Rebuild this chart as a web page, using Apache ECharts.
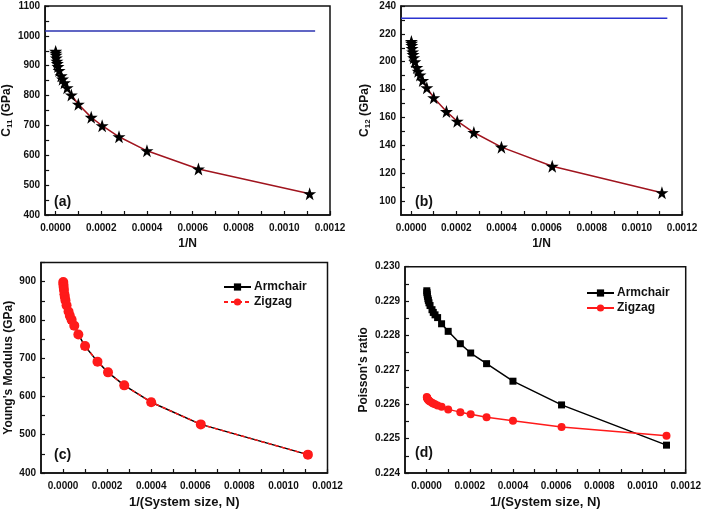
<!DOCTYPE html>
<html><head><meta charset="utf-8">
<script src="https://cdn.jsdelivr.net/npm/echarts@6/dist/echarts.min.js"></script>
<style>html,body{margin:0;padding:0;background:#fff}#c{width:704px;height:510px}</style>
</head><body><div id="c"></div>
<script>
// ---------- data ----------
const invN = [0.000001, 0.0000016, 0.0000028, 0.000004, 0.0000063, 0.0000082, 0.0000111, 0.000016, 0.000025, 0.0000309, 0.0000391, 0.000051, 0.0000694, 0.0001, 0.0001563, 0.0002041, 0.0002778, 0.0004, 0.000625, 0.0011111];
const c11 = [948, 942, 935, 926, 915, 907, 897, 884, 866, 855, 843, 826, 802, 771, 727, 699, 662, 615, 554, 471];
const c12 = [214.5, 213.2, 211.6, 209.5, 207, 205.2, 202.9, 199.9, 195.8, 193.2, 190.5, 186.5, 181.3, 174.2, 164.2, 157.3, 149.2, 138.7, 125, 106];
const youngArm = [898, 892, 886, 877, 867, 859, 850, 838, 821, 810, 799, 784, 762, 731, 691, 663, 629, 585, 527, 448];
const youngZig = [899, 893, 886, 878, 867, 860, 851, 838, 822, 811, 800, 785, 762, 732, 691, 663, 629, 585, 527, 448];
const poisArm = [0.22930, 0.22925, 0.22920, 0.22914, 0.22907, 0.22902, 0.22895, 0.22887, 0.22875, 0.22867, 0.22860, 0.22852, 0.22834, 0.22812, 0.22776, 0.22749, 0.22718, 0.22667, 0.22598, 0.22481];
const poisZig = [0.22621, 0.22619, 0.22618, 0.22616, 0.22614, 0.22612, 0.22610, 0.22608, 0.22604, 0.22602, 0.22600, 0.22596, 0.22593, 0.22585, 0.22577, 0.22571, 0.22562, 0.22552, 0.22534, 0.22508];
const limitX = [-0.000045, 0.001135];
const c11Limit = 1016;
const c12Limit = 231.2;
const xTicks = [0, 0.0001, 0.0002, 0.0003, 0.0004, 0.0005, 0.0006, 0.0007, 0.0008, 0.0009, 0.0010, 0.0011, 0.0012];
const xLabels = [0, 0.0002, 0.0004, 0.0006, 0.0008, 0.0010, 0.0012];
const yTicksA = [400, 450, 500, 550, 600, 650, 700, 750, 800, 850, 900, 950, 1000, 1050, 1100];
const yLabelsB = [100, 120, 140, 160, 180, 200, 220, 240];
const yTicksB = [100, 110, 120, 130, 140, 150, 160, 170, 180, 190, 200, 210, 220, 230, 240];
const yLabelsC = [400, 500, 600, 700, 800, 900];
const yTicksC = [400, 450, 500, 550, 600, 650, 700, 750, 800, 850, 900, 950];
const yTicksD = [0.224, 0.2245, 0.225, 0.2255, 0.226, 0.2265, 0.227, 0.2275, 0.228, 0.2285, 0.229, 0.2295, 0.230];
const panelLabels = ['(a)', '(b)', '(c)', '(d)'];

// ---------- helpers ----------
const pair = (xs, ys) => xs.map((x, i) => [x, ys[i]]);
const STAR = 'path://M50,0 L61.8,35.1 L98.5,35.1 L68.8,56.8 L79.4,91.9 L50,70.3 L20.6,91.9 L31.2,56.8 L1.5,35.1 L38.2,35.1 Z';
const FONT = 'Liberation Sans, Arial, sans-serif';
const axisCommon = {
  axisLine: { onZero: false, lineStyle: { color: '#111', width: 1.5 } },
  axisTick: { inside: true, length: 4, lineStyle: { color: '#111', width: 1.2 } },
  splitLine: { show: false },
  nameTextStyle: { fontFamily: FONT, fontWeight: 'bold', fontSize: 12, color: '#111' }
};
function xAx(gi, min, name, fs) {
  return Object.assign({}, axisCommon, {
    type: 'value', gridIndex: gi, min: min, max: 0.0012,
    name: name, nameLocation: 'middle', nameGap: 23,
    nameTextStyle: { fontFamily: FONT, fontWeight: 'bold', fontSize: fs, color: '#111' },
    axisTick: Object.assign({}, axisCommon.axisTick, { customValues: xTicks }),
    axisLabel: { customValues: xLabels, formatter: v => v.toFixed(4), fontFamily: FONT, fontWeight: 'bold', fontSize: 10, color: '#111', margin: 8 }
  });
}
function yAx(gi, o) {
  return Object.assign({}, axisCommon, {
    type: 'value', gridIndex: gi, nameLocation: 'middle', nameRotate: 90,
    axisLabel: Object.assign({ fontFamily: FONT, fontWeight: 'bold', fontSize: 10, color: '#111', margin: 5, formatter: v => String(v) }, o.label || {})
  }, o.ax, { axisTick: Object.assign({}, axisCommon.axisTick, { customValues: o.ticks }) });
}
const gridBox = { show: true, borderColor: '#111', borderWidth: 1.5, backgroundColor: 'transparent' };
const sub = { a: { fontFamily: FONT, fontWeight: 'bold', fontSize: 12, color: '#111' }, s: { fontFamily: FONT, fontWeight: 'bold', fontSize: 8, color: '#111', padding: [6, 0, 0, 0] } };
const legText = { fontFamily: FONT, fontWeight: 'bold', fontSize: 12, color: '#111', padding: [0, 0, 0, -2] };

const option = {
  animation: false,
  backgroundColor: '#fff',
  grid: [
    Object.assign({ left: 41, top: 6, width: 289, height: 209 }, gridBox),
    Object.assign({ left: 401, top: 6, width: 281, height: 209 }, gridBox),
    Object.assign({ left: 41, top: 262.5, width: 286.5, height: 210.5 }, gridBox),
    Object.assign({ left: 405, top: 266.7, width: 282, height: 206.6 }, gridBox)
  ],
  xAxis: [
    xAx(0, -0.000045, '1/N', 12),
    xAx(1, -0.000045, '1/N', 12),
    xAx(2, -0.0001, '1/(System size, N)', 13),
    xAx(3, -0.0001, '1/(System size, N)', 13)
  ],
  yAxis: [
    yAx(0, { ax: { min: 400, max: 1100, interval: 100, name: '{a|C}{s|11}{a| (GPa)}', nameGap: 26, nameTextStyle: { rich: sub } }, ticks: yTicksA }),
    yAx(1, { ax: { min: 90, max: 240, name: '{a|C}{s|12}{a| (GPa)}', nameGap: 29, nameTextStyle: { rich: sub } }, ticks: yTicksB, label: { customValues: yLabelsB } }),
    yAx(2, { ax: { min: 400, max: 950, name: "Young's Modulus (GPa)", nameGap: 26 }, ticks: yTicksC, label: { customValues: yLabelsC } }),
    yAx(3, { ax: { min: 0.224, max: 0.230, interval: 0.001, name: "Poisson's ratio", nameGap: 35 }, ticks: yTicksD, label: { formatter: v => v.toFixed(3) } })
  ],
  title: panelLabels.map((t, i) => ({
    text: t, left: [49, 410, 49, 410][i], top: [190, 190, 443, 441][i],
    textStyle: { fontFamily: FONT, fontWeight: 'bold', fontSize: 14, color: '#111' }
  })),
  legend: [
    { left: 218, top: 276, orient: 'vertical', itemGap: 3, itemWidth: 27, itemHeight: 9,
      data: ['Armchair', { name: 'Zigzag', lineStyle: { type: [4, 3] } }], textStyle: legText },
    { left: 581, top: 282, orient: 'vertical', itemGap: 3, itemWidth: 27, itemHeight: 9,
      data: ['Armchair', { name: 'Zigzag', lineStyle: { type: 'solid' } }], textStyle: legText }
  ],
  series: [
    { type: 'line', xAxisIndex: 0, yAxisIndex: 0, data: pair(limitX, [c11Limit, c11Limit]), symbol: 'none', lineStyle: { color: '#2b33b0', width: 1.5 } },
    { type: 'line', xAxisIndex: 0, yAxisIndex: 0, data: pair(invN, c11), symbol: STAR, symbolSize: 13, itemStyle: { color: '#000' }, lineStyle: { color: '#a0141e', width: 1.5 } },
    { type: 'line', xAxisIndex: 1, yAxisIndex: 1, data: pair(limitX, [c12Limit, c12Limit]), symbol: 'none', lineStyle: { color: '#2b33d0', width: 1.5 } },
    { type: 'line', xAxisIndex: 1, yAxisIndex: 1, data: pair(invN, c12), symbol: STAR, symbolSize: 13, itemStyle: { color: '#000' }, lineStyle: { color: '#a0141e', width: 1.5 } },
    { name: 'Armchair', type: 'line', xAxisIndex: 2, yAxisIndex: 2, data: pair(invN, youngArm), symbol: 'rect', symbolSize: 7, itemStyle: { color: '#000' }, lineStyle: { color: '#000', width: 1.5 } },
    { name: 'Zigzag', type: 'line', xAxisIndex: 2, yAxisIndex: 2, data: pair(invN, youngZig), symbol: 'circle', symbolSize: 10, itemStyle: { color: '#ff1a1a' }, lineStyle: { color: '#ff1a1a', width: 1.5, type: [4, 3] } },
    { name: 'Armchair', type: 'line', xAxisIndex: 3, yAxisIndex: 3, data: pair(invN, poisArm), symbol: 'rect', symbolSize: 7, itemStyle: { color: '#000' }, lineStyle: { color: '#000', width: 1.5 } },
    { name: 'Zigzag', type: 'line', xAxisIndex: 3, yAxisIndex: 3, data: pair(invN, poisZig), symbol: 'circle', symbolSize: 8, itemStyle: { color: '#ff1a1a' }, lineStyle: { color: '#ff1a1a', width: 1.5 } }
  ]
};
const chart = echarts.init(document.getElementById('c'), null, { renderer: 'canvas' });
chart.setOption(option);
</script></body></html>
